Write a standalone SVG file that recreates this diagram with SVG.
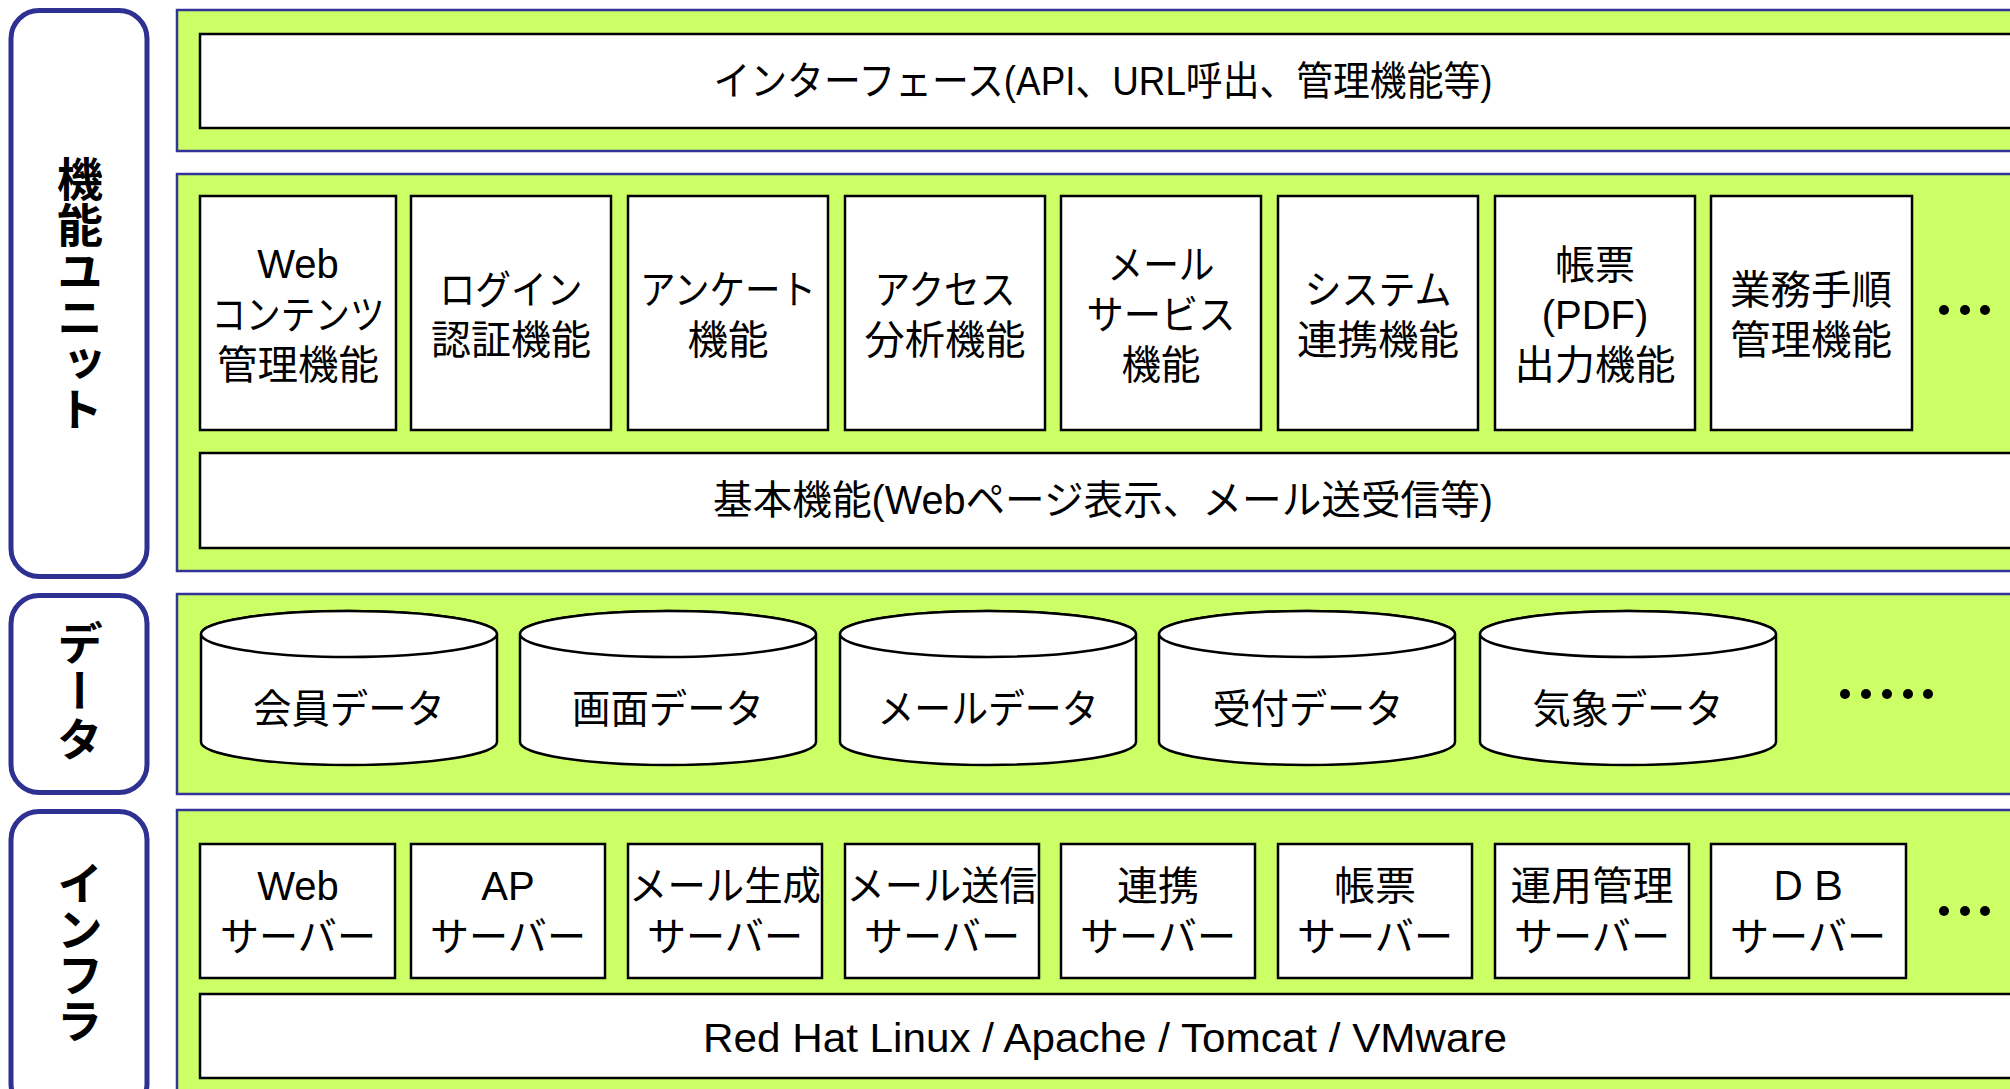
<svg xmlns="http://www.w3.org/2000/svg" width="2010" height="1089" viewBox="0 0 2010 1089">
<style>
.lbl{fill:#fff;stroke:#2e3192;stroke-width:5}
.pan{fill:#ccff66;stroke:#333399;stroke-width:2.5}
.box{fill:#fff;stroke:#000;stroke-width:2.5}
.t{font-family:"Liberation Sans","Noto Sans CJK JP",sans-serif;font-size:40px;fill:#000;text-anchor:middle;dominant-baseline:central}
.v{font-family:"Noto Sans CJK JP",sans-serif;font-size:46px;font-weight:bold;fill:#000;text-anchor:middle;writing-mode:vertical-rl}
.dot{fill:#000}
</style>
<defs>
<g id="cyl"><path class="box" d="M0,0 A148,23 0 0 1 296,0 L296,108 A148,23 0 0 1 0,108 Z"/><ellipse class="box" cx="148" cy="0" rx="148" ry="23"/></g>
</defs>
<rect width="2010" height="1089" fill="#fff"/>
<g id="label-kinou"><rect class="lbl" x="11" y="10.5" width="136" height="566" rx="28"/><text class="v" x="80" y="294">機能ユニット</text></g>
<g id="label-data"><rect class="lbl" x="11" y="595.5" width="136" height="197" rx="28"/><text class="v" x="80" y="692" letter-spacing="2">データ</text></g>
<g id="label-infra"><rect class="lbl" x="11" y="811.5" width="136" height="300" rx="28"/><text class="v" x="80" y="952">インフラ</text></g>

<g id="panel-interface"><rect class="pan" x="177" y="10" width="1900" height="141"/>
<rect class="box" x="200" y="34" width="1820" height="94"/>
<text class="t" x="1103" y="81" font-size="38" textLength="779" lengthAdjust="spacingAndGlyphs">インターフェース(API、URL呼出、管理機能等)</text></g>

<g id="panel-functions"><rect class="pan" x="177" y="174" width="1900" height="397"/></g>
<g id="f1"><rect class="box" x="200" y="196" width="196" height="234"/><text class="t" x="298" y="264">Web</text><text class="t" x="298" y="315" textLength="173" lengthAdjust="spacingAndGlyphs">コンテンツ</text><text class="t" x="298" y="365" textLength="162" lengthAdjust="spacingAndGlyphs">管理機能</text></g>
<g id="f2"><rect class="box" x="411" y="196" width="200" height="234"/><text class="t" x="511" y="290" textLength="143" lengthAdjust="spacingAndGlyphs">ログイン</text><text class="t" x="511" y="340" textLength="160" lengthAdjust="spacingAndGlyphs">認証機能</text></g>
<g id="f3"><rect class="box" x="628" y="196" width="200" height="234"/><text class="t" x="728" y="290" textLength="176" lengthAdjust="spacingAndGlyphs">アンケート</text><text class="t" x="728" y="340" textLength="81" lengthAdjust="spacingAndGlyphs">機能</text></g>
<g id="f4"><rect class="box" x="845" y="196" width="200" height="234"/><text class="t" x="945" y="290" textLength="141" lengthAdjust="spacingAndGlyphs">アクセス</text><text class="t" x="945" y="340" textLength="161" lengthAdjust="spacingAndGlyphs">分析機能</text></g>
<g id="f5"><rect class="box" x="1061" y="196" width="200" height="234"/><text class="t" x="1161" y="265" textLength="107" lengthAdjust="spacingAndGlyphs">メール</text><text class="t" x="1161" y="315" textLength="149" lengthAdjust="spacingAndGlyphs">サービス</text><text class="t" x="1161" y="365" textLength="79" lengthAdjust="spacingAndGlyphs">機能</text></g>
<g id="f6"><rect class="box" x="1278" y="196" width="200" height="234"/><text class="t" x="1378" y="290" textLength="147" lengthAdjust="spacingAndGlyphs">システム</text><text class="t" x="1378" y="340" textLength="162" lengthAdjust="spacingAndGlyphs">連携機能</text></g>
<g id="f7"><rect class="box" x="1495" y="196" width="200" height="234"/><text class="t" x="1595" y="265" textLength="80" lengthAdjust="spacingAndGlyphs">帳票</text><text class="t" x="1595" y="315">(PDF)</text><text class="t" x="1595" y="365" textLength="161" lengthAdjust="spacingAndGlyphs">出力機能</text></g>
<g id="f8"><rect class="box" x="1711" y="196" width="201" height="234"/><text class="t" x="1811" y="290" textLength="162" lengthAdjust="spacingAndGlyphs">業務手順</text><text class="t" x="1811" y="340" textLength="162" lengthAdjust="spacingAndGlyphs">管理機能</text></g>
<g id="f-more"><circle class="dot" cx="1944" cy="310" r="5"/><circle class="dot" cx="1965" cy="310" r="5"/><circle class="dot" cx="1985" cy="310" r="5"/></g>
<g id="f-basic"><rect class="box" x="200" y="453" width="1820" height="95"/><text class="t" x="1103" y="500" font-size="38" textLength="780" lengthAdjust="spacingAndGlyphs">基本機能(Webページ表示、メール送受信等)</text></g>

<g id="panel-data"><rect class="pan" x="177" y="594" width="1900" height="200"/></g>
<g id="d1"><use href="#cyl" x="201" y="634"/><text class="t" x="349" y="709" textLength="192" lengthAdjust="spacingAndGlyphs">会員データ</text></g>
<g id="d2"><use href="#cyl" x="520" y="634"/><text class="t" x="668" y="709" textLength="192" lengthAdjust="spacingAndGlyphs">画面データ</text></g>
<g id="d3"><use href="#cyl" x="840" y="634"/><text class="t" x="988" y="709" textLength="221" lengthAdjust="spacingAndGlyphs">メールデータ</text></g>
<g id="d4"><use href="#cyl" x="1159" y="634"/><text class="t" x="1308" y="709" textLength="191" lengthAdjust="spacingAndGlyphs">受付データ</text></g>
<g id="d5"><use href="#cyl" x="1480" y="634"/><text class="t" x="1628" y="709" textLength="191" lengthAdjust="spacingAndGlyphs">気象データ</text></g>
<g id="d-more"><circle class="dot" cx="1845" cy="694" r="5"/><circle class="dot" cx="1866" cy="694" r="5"/><circle class="dot" cx="1887" cy="694" r="5"/><circle class="dot" cx="1908" cy="694" r="5"/><circle class="dot" cx="1928" cy="694" r="5"/></g>

<g id="panel-infra"><rect class="pan" x="177" y="810" width="1900" height="300"/></g>
<g id="i1"><rect class="box" x="200" y="844" width="195" height="134"/><text class="t" x="298" y="886">Web</text><text class="t" x="298" y="937" textLength="156" lengthAdjust="spacingAndGlyphs">サーバー</text></g>
<g id="i2"><rect class="box" x="411" y="844" width="194" height="134"/><text class="t" x="508" y="886">AP</text><text class="t" x="508" y="937" textLength="156" lengthAdjust="spacingAndGlyphs">サーバー</text></g>
<g id="i3"><rect class="box" x="628" y="844" width="194" height="134"/><text class="t" x="725" y="886" textLength="192" lengthAdjust="spacingAndGlyphs">メール生成</text><text class="t" x="725" y="937" textLength="156" lengthAdjust="spacingAndGlyphs">サーバー</text></g>
<g id="i4"><rect class="box" x="845" y="844" width="194" height="134"/><text class="t" x="942" y="886" textLength="191" lengthAdjust="spacingAndGlyphs">メール送信</text><text class="t" x="942" y="937" textLength="156" lengthAdjust="spacingAndGlyphs">サーバー</text></g>
<g id="i5"><rect class="box" x="1061" y="844" width="194" height="134"/><text class="t" x="1158" y="886" textLength="82" lengthAdjust="spacingAndGlyphs">連携</text><text class="t" x="1158" y="937" textLength="156" lengthAdjust="spacingAndGlyphs">サーバー</text></g>
<g id="i6"><rect class="box" x="1278" y="844" width="194" height="134"/><text class="t" x="1375" y="886" textLength="82" lengthAdjust="spacingAndGlyphs">帳票</text><text class="t" x="1375" y="937" textLength="156" lengthAdjust="spacingAndGlyphs">サーバー</text></g>
<g id="i7"><rect class="box" x="1495" y="844" width="194" height="134"/><text class="t" x="1592" y="886" textLength="163" lengthAdjust="spacingAndGlyphs">運用管理</text><text class="t" x="1592" y="937" textLength="156" lengthAdjust="spacingAndGlyphs">サーバー</text></g>
<g id="i8"><rect class="box" x="1711" y="844" width="195" height="134"/><text class="t" x="1808" y="886">ＤＢ</text><text class="t" x="1808" y="937" textLength="156" lengthAdjust="spacingAndGlyphs">サーバー</text></g>
<g id="i-more"><circle class="dot" cx="1944" cy="911" r="5"/><circle class="dot" cx="1965" cy="911" r="5"/><circle class="dot" cx="1985" cy="911" r="5"/></g>
<g id="i-base"><rect class="box" x="200" y="994" width="1820" height="84"/><text class="t" x="1105" y="1038" font-size="38" textLength="804" lengthAdjust="spacingAndGlyphs">Red Hat Linux / Apache / Tomcat / VMware</text></g>
<g id="connectors"/>
</svg>
